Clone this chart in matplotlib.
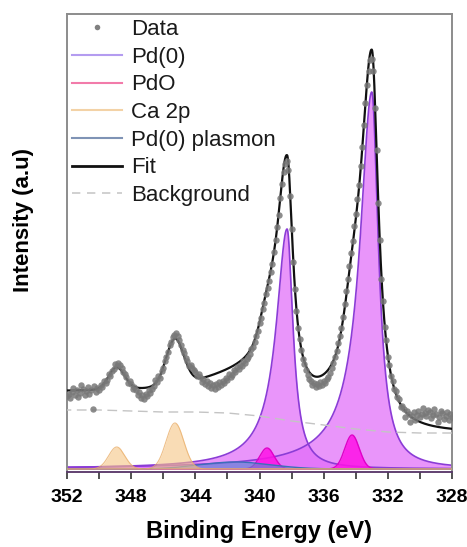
import numpy as np
import matplotlib
matplotlib.use("Agg")
import matplotlib.pyplot as plt
from matplotlib.lines import Line2D
from matplotlib.ticker import MultipleLocator

plt.rcParams['font.family'] = ['Liberation Sans', 'DejaVu Sans']

# ---- measured spectrum: 0.1 eV steps from 328.0 to 352.0 eV ----
be_first, be_last = 328.0, 352.0
counts = [
    52, 55, 49, 57, 53, 50, 56, 58, 52, 47,
    55, 60, 54, 51, 57, 59, 53, 56, 61, 55,
    52, 58, 54, 49, 57, 53, 47, 55, 58, 52,
    60, 63, 62, 70, 72, 78, 80, 88, 93, 104,
    112, 129, 142, 168, 190, 229, 266, 319, 361, 398,
    410, 409, 398, 384, 366, 344, 322, 303, 284, 270,
    255, 243, 228, 216, 203, 190, 178, 165, 152, 141,
    133, 126, 118, 112, 106, 101, 96, 92, 90, 86,
    88, 84, 87, 83, 85, 82, 86, 84, 88, 90,
    94, 99, 105, 110, 119, 130, 141, 158, 180, 207,
    240, 273, 299, 308, 305, 297, 285, 271, 254, 242,
    229, 217, 205, 197, 188, 181, 175, 166, 160, 151,
    146, 138, 133, 127, 122, 120, 115, 112, 110, 106,
    108, 103, 104, 100, 102, 97, 99, 94, 92, 95,
    89, 91, 86, 88, 84, 87, 82, 85, 80, 84,
    81, 86, 83, 88, 85, 90, 87, 92, 95, 93,
    97, 99, 101, 104, 103, 108, 111, 116, 119, 124,
    129, 133, 136, 134, 132, 127, 124, 117, 112, 108,
    101, 98, 91, 93, 87, 89, 83, 80, 76, 79,
    73, 75, 70, 74, 71, 77, 74, 79, 82, 80,
    85, 88, 86, 92, 95, 97, 101, 104, 106, 103,
    105, 100, 98, 93, 95, 89, 86, 88, 82, 84,
    79, 81, 77, 83, 60, 79, 75, 82, 78, 74,
    80, 84, 76, 72, 79, 74, 81, 77, 71, 75,
    73,
]

# ---- fitted components ----
# Pd(0) 3d5/2 and 3d3/2: asymmetric lines (Lorentzian on the low-BE side,
# slower power-law tail on the high-BE side)
pd0_centers = [333.0, 338.28]
pd0_heights = [377, 240]
pd0_gamma_low = [0.50, 0.45]
pd0_gamma_high = [0.82, 0.75]
pd0_tail_power = 0.85
pd0_shirley_steps = [11, 28]

pdo_centers = [334.23, 339.53]
pdo_heights = [34, 21]
pdo_sigma = 0.45

ca_centers = [345.27, 348.9]
ca_heights = [46, 22]
ca_sigmas = [0.55, 0.50]

plasmon_center = 341.5
plasmon_height = 7
plasmon_sigma = 2.2

shirley_low = 36

# background trace
background_be = [328, 330, 332, 334, 336, 338, 340, 342, 344, 346, 348, 350, 352]
background_level = [36, 36, 37, 40, 44, 48, 53, 56, 57, 57, 58, 59, 59]


def asym_line(e, c, h, g_low, g_high, p):
    d = e - c
    low = h / (1.0 + (d / g_low) ** 2)
    high = h * (1.0 + (d / g_high) ** 2) ** (-p)
    return np.where(d < 0, low, high)


def gauss(e, c, h, s):
    return h * np.exp(-(e - c) ** 2 / (2 * s ** 2))


def cum_fraction(e, y):
    steps = np.concatenate([[0.0], np.cumsum(0.5 * (y[1:] + y[:-1]) * np.diff(e))])
    return steps / steps[-1]


be_data = np.linspace(be_first, be_last, len(counts))
e = np.linspace(be_first, be_last, 2401)

pd0 = [asym_line(e, c, h, gl, gh, pd0_tail_power)
       for c, h, gl, gh in zip(pd0_centers, pd0_heights, pd0_gamma_low, pd0_gamma_high)]
pdo = [gauss(e, c, h, pdo_sigma) for c, h in zip(pdo_centers, pdo_heights)]
ca = [gauss(e, c, h, s) for c, h, s in zip(ca_centers, ca_heights, ca_sigmas)]
plasmon = gauss(e, plasmon_center, plasmon_height, plasmon_sigma)

shirley = shirley_low + sum(st * cum_fraction(e, p) for st, p in zip(pd0_shirley_steps, pd0))
fit = shirley + sum(pd0) + sum(pdo) + sum(ca) + plasmon

# ---- figure ----
fig = plt.figure(figsize=(4.67, 5.47), dpi=100)
ax = fig.add_axes([67 / 467, 1 - 472 / 547, 385 / 467, 458 / 547])

pd0_fill, pd0_edge = '#E16CF9', '#8B3CD6'
pdo_fill, pdo_edge = '#FF12E6', '#E000C8'
pl_fill, pl_edge = '#4F8ED2', '#3A70B8'
ca_fill, ca_edge = '#F6C585', '#EAB06C'

for p in pd0:
    ax.fill_between(e, 0, p, color=pd0_fill, alpha=0.72, lw=0, zorder=2)
    ax.plot(e, p, color=pd0_edge, lw=1.2, zorder=2.2)
for p in pdo:
    ax.fill_between(e, 0, p, color=pdo_fill, alpha=0.85, lw=0, zorder=2.4)
    ax.plot(e, p, color=pdo_edge, lw=1.0, zorder=2.5)
ax.fill_between(e, 0, plasmon, color=pl_fill, alpha=0.6, lw=0, zorder=2.6)
ax.plot(e, plasmon, color=pl_edge, lw=1.0, zorder=2.7)
for p in ca:
    ax.fill_between(e, 0, p, color=ca_fill, alpha=0.6, lw=0, zorder=2.8)
    ax.plot(e, p, color=ca_edge, lw=0.8, alpha=0.8, zorder=2.9)

ax.plot(background_be, background_level, color='#C4C4C4', lw=1.0,
        dashes=(7, 4), zorder=3)
ax.plot(e, fit, color='#111111', lw=1.6, zorder=4)
ax.plot(be_data, counts, 'o', ms=4.6, color='#787878', mec='none', alpha=0.85, zorder=5)

ax.set_xlim(352, 328)
ax.set_ylim(-3, 455)
ax.xaxis.set_major_locator(MultipleLocator(4))
ax.xaxis.set_minor_locator(MultipleLocator(2))
ax.tick_params(axis='x', which='both', direction='out', length=5, width=1.2,
               color='#333333', labelsize=14, pad=7)
for lbl in ax.get_xticklabels():
    lbl.set_fontweight('bold')
ax.set_yticks([])

for side in ('left', 'top', 'right'):
    ax.spines[side].set_color('#8C8C8C')
    ax.spines[side].set_linewidth(1.4)
ax.spines['bottom'].set_color('#553366')
ax.spines['bottom'].set_linewidth(1.3)

ax.set_xlabel('Binding Energy (eV)', fontsize=17, fontweight='bold', labelpad=10)
ax.set_ylabel('Intensity (a.u)', fontsize=16, fontweight='bold')
ax.yaxis.set_label_coords(-0.086, 0.55)

handles = [
    Line2D([], [], ls='none', marker='o', ms=4, color='#808080', mec='none'),
    Line2D([], [], color='#B49CF0', lw=1.5),
    Line2D([], [], color='#F27BAA', lw=1.5),
    Line2D([], [], color='#F3D2A6', lw=1.5),
    Line2D([], [], color='#7F93B5', lw=1.5),
    Line2D([], [], color='#111111', lw=2.0),
    Line2D([], [], color='#C8C8C8', lw=1.2, dashes=(5, 4)),
]
labels = ['Data', 'Pd(0)', 'PdO', 'Ca 2p', 'Pd(0) plasmon', 'Fit', 'Background']
ax.legend(handles, labels, loc='upper left', bbox_to_anchor=(0.014, 0.989),
          frameon=False, fontsize=16, handlelength=2.25, handletextpad=0.4,
          labelspacing=0.3, borderpad=0, borderaxespad=0, numpoints=1,
          labelcolor='#1A1A1A')

fig.savefig('out.png', dpi=100)
